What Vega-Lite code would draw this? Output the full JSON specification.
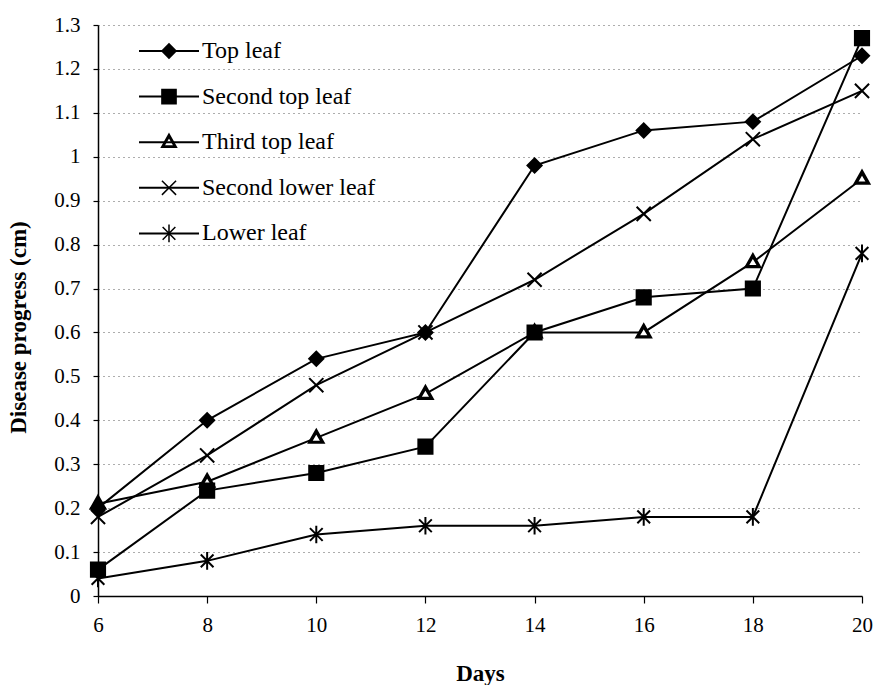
{
  "$schema": "https://vega.github.io/schema/vega-lite/v6.json",
  "width": 764,
  "height": 571,
  "autosize": {"type": "none"},
  "padding": {"left": 98, "top": 25, "right": 17, "bottom": 89},
  "background": "white",
  "config": {
    "view": {"stroke": null},
    "font": "Liberation Serif",
    "axis": {
      "labelFont": "Liberation Serif",
      "labelFontSize": 21,
      "labelColor": "black",
      "titleFont": "Liberation Serif",
      "titleFontSize": 23,
      "titleFontWeight": "bold",
      "titleColor": "black",
      "domainColor": "black",
      "domainWidth": 1.5,
      "tickColor": "black",
      "tickWidth": 1.2
    }
  },
  "data": {
    "values": [
      {"day": 6, "leaf": "Top leaf", "progress": 0.2},
      {"day": 8, "leaf": "Top leaf", "progress": 0.4},
      {"day": 10, "leaf": "Top leaf", "progress": 0.54},
      {"day": 12, "leaf": "Top leaf", "progress": 0.6},
      {"day": 14, "leaf": "Top leaf", "progress": 0.98},
      {"day": 16, "leaf": "Top leaf", "progress": 1.06},
      {"day": 18, "leaf": "Top leaf", "progress": 1.08},
      {"day": 20, "leaf": "Top leaf", "progress": 1.23},
      {"day": 6, "leaf": "Second top leaf", "progress": 0.06},
      {"day": 8, "leaf": "Second top leaf", "progress": 0.24},
      {"day": 10, "leaf": "Second top leaf", "progress": 0.28},
      {"day": 12, "leaf": "Second top leaf", "progress": 0.34},
      {"day": 14, "leaf": "Second top leaf", "progress": 0.6},
      {"day": 16, "leaf": "Second top leaf", "progress": 0.68},
      {"day": 18, "leaf": "Second top leaf", "progress": 0.7},
      {"day": 20, "leaf": "Second top leaf", "progress": 1.27},
      {"day": 6, "leaf": "Third top leaf", "progress": 0.21},
      {"day": 8, "leaf": "Third top leaf", "progress": 0.26},
      {"day": 10, "leaf": "Third top leaf", "progress": 0.36},
      {"day": 12, "leaf": "Third top leaf", "progress": 0.46},
      {"day": 14, "leaf": "Third top leaf", "progress": 0.6},
      {"day": 16, "leaf": "Third top leaf", "progress": 0.6},
      {"day": 18, "leaf": "Third top leaf", "progress": 0.76},
      {"day": 20, "leaf": "Third top leaf", "progress": 0.95},
      {"day": 6, "leaf": "Second lower leaf", "progress": 0.18},
      {"day": 8, "leaf": "Second lower leaf", "progress": 0.32},
      {"day": 10, "leaf": "Second lower leaf", "progress": 0.48},
      {"day": 12, "leaf": "Second lower leaf", "progress": 0.6},
      {"day": 14, "leaf": "Second lower leaf", "progress": 0.72},
      {"day": 16, "leaf": "Second lower leaf", "progress": 0.87},
      {"day": 18, "leaf": "Second lower leaf", "progress": 1.04},
      {"day": 20, "leaf": "Second lower leaf", "progress": 1.15},
      {"day": 6, "leaf": "Lower leaf", "progress": 0.04},
      {"day": 8, "leaf": "Lower leaf", "progress": 0.08},
      {"day": 10, "leaf": "Lower leaf", "progress": 0.14},
      {"day": 12, "leaf": "Lower leaf", "progress": 0.16},
      {"day": 14, "leaf": "Lower leaf", "progress": 0.16},
      {"day": 16, "leaf": "Lower leaf", "progress": 0.18},
      {"day": 18, "leaf": "Lower leaf", "progress": 0.18},
      {"day": 20, "leaf": "Lower leaf", "progress": 0.78}
    ]
  },
  "encoding": {
    "x": {
      "field": "day",
      "type": "quantitative",
      "scale": {"domain": [6, 20], "nice": false, "zero": false},
      "axis": {
        "title": "Days",
        "values": [6, 8, 10, 12, 14, 16, 18, 20],
        "grid": false,
        "tickSize": 7,
        "labelPadding": 11,
        "labelFlush": false,
        "titleX": 382,
        "titleY": 77,
        "titleBaseline": "middle",
        "titleAlign": "center"
      }
    },
    "y": {
      "field": "progress",
      "type": "quantitative",
      "scale": {"domain": [0, 1.3], "nice": false},
      "axis": {
        "title": "Disease progress (cm)",
        "values": [0, 0.1, 0.2, 0.3, 0.4, 0.5, 0.6, 0.7, 0.8, 0.9, 1, 1.1, 1.2, 1.3],
        "format": "~g",
        "grid": true,
        "gridDash": [1, 4],
        "gridColor": "#333",
        "gridOpacity": 0.8,
        "tickSize": 5,
        "labelPadding": 13,
        "labelFlush": false,
        "titleAngle": -90,
        "titleX": -80,
        "titleY": 302,
        "titleBaseline": "middle",
        "titleAlign": "center"
      }
    }
  },
  "layer": [
    {
      "mark": {"type": "line", "strokeWidth": 2},
      "encoding": {
        "color": {
          "field": "leaf",
          "type": "nominal",
          "scale": {
            "domain": ["Top leaf", "Second top leaf", "Third top leaf", "Second lower leaf", "Lower leaf"],
            "range": ["black", "black", "black", "black", "black"]
          },
          "legend": {
            "title": null,
            "orient": "none",
            "legendX": 59,
            "legendY": 14,
            "padding": 0,
            "symbolType": "M-4,0H4",
            "symbolSize": 225,
            "symbolStrokeWidth": 2,
            "labelFont": "Liberation Serif",
            "labelFontSize": 24,
            "labelColor": "black",
            "labelLimit": 400,
            "labelOffset": 21,
            "rowPadding": 21.6
          }
        }
      }
    },
    {
      "transform": [{"filter": "datum.leaf === 'Third top leaf'"}],
      "mark": {"type": "point", "shape": "triangle-up", "filled": true, "color": "white", "strokeWidth": 0, "size": 120, "opacity": 1}
    },
    {
      "mark": {"type": "point", "filled": true, "color": "black", "stroke": "black", "strokeWidth": 2, "size": 200, "opacity": 1},
      "encoding": {
        "shape": {
          "field": "leaf",
          "type": "nominal",
          "sort": ["Top leaf", "Second top leaf", "Third top leaf", "Second lower leaf", "Lower leaf"],
          "scale": {
            "range": [
              "diamond",
              "square",
              "M0,-1.15L1.05,0.7L-1.05,0.7ZM0,-0.72L-0.75,0.55L0.75,0.55Z",
              "M-1,-1L1,1M1,-1L-1,1",
              "M-0.9,-0.9L0.9,0.9M0.9,-0.9L-0.9,0.9M0,-1.25L0,1.25"
            ]
          },
          "legend": {
            "title": null,
            "orient": "none",
            "legendX": 59,
            "legendY": 14,
            "padding": 0,
            "symbolSize": 200,
            "labelFont": "Liberation Serif",
            "labelFontSize": 24,
            "labelOpacity": 0,
            "labelLimit": 400,
            "labelOffset": 21,
            "rowPadding": 21.6,
            "encode": {
              "symbols": {
                "stroke": {"value": "black"},
                "strokeWidth": {"value": 2},
                "opacity": {"value": 1}
              }
            }
          }
        }
      }
    }
  ]
}
